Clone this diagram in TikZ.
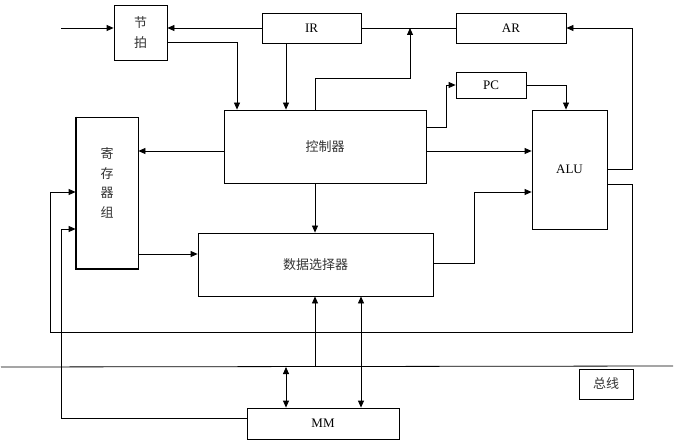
\documentclass[tikz,border=0pt]{standalone}
\usepackage{fontspec}
\setmainfont{Liberation Serif}
\newfontfamily\cjk{Noto Sans CJK SC}
\usetikzlibrary{arrows.meta}
\begin{document}
\begin{tikzpicture}[x=1pt,y=-1pt,
  box/.style={draw, line width=0.8pt, inner sep=0pt, font=\fontsize{13}{16}\selectfont},
  cn/.style={font=\fontsize{13}{19.5}\selectfont\cjk, text=black!80, align=center},
  conn/.style={line width=0.8pt, -{Triangle[length=7pt,width=6pt]}},
  dconn/.style={line width=0.8pt, {Triangle[length=7pt,width=6pt]}-{Triangle[length=7pt,width=6pt]}},
  plain/.style={line width=0.8pt}]
\useasboundingbox (0,0) rectangle (692,443);
% boxes
\node[box, cn, minimum width=53pt, minimum height=55pt] (jp) at (140.5,32.5) {节\\拍};
\node[box, minimum width=99pt, minimum height=30pt] (ir) at (311.5,28) {IR};
\node[box, minimum width=110pt, minimum height=30pt] (ar) at (511,28) {AR};
\node[box, minimum width=70pt, minimum height=26pt] (pc) at (491,85) {PC};
\node[box, minimum width=75pt, minimum height=119pt] (alu) at (569.5,169.5) {ALU};
\node[box, cn, minimum width=202pt, minimum height=73pt] (ctrl) at (325,146.5) {控制器};
\node[box, minimum width=62pt, minimum height=152pt] (reg) at (107,193) {};
\node[cn] (regtxt) at (107,183) {寄\\存\\器\\组};
\draw[line width=1.8pt] ([xshift=0.5pt]reg.north west) -- ([xshift=0.5pt,yshift=0.5pt]reg.south west) -- ([yshift=0.5pt]reg.south east);
\node[box, cn, minimum width=235pt, minimum height=63pt] (mux) at (315.5,264.5) {数据选择器};
\node[box, minimum width=152pt, minimum height=31pt] (mm) at (323,423.5) {MM};
\node[box, cn, minimum width=54pt, minimum height=30pt] (buslbl) at (606,384) {总线};
% bus
\coordinate (busL) at (1,367);
\coordinate (busR) at (673,366);
\draw[plain] (busL) -- (busR);
\coordinate (bA) at (286,367);
\coordinate (bB) at (315,367);
\coordinate (in) at (61,28);
\coordinate (j1) at (410,28);
% connectors
\draw[conn] (in) -- (in -| jp.west);
\draw[conn] (ir.west) -- (ir.west -| jp.east);
\draw[conn] (jp.east |- 0,42) -| (237,0 |- ctrl.north);
\draw[conn] (286,0 |- ir.south) -- (286,0 |- ctrl.north);
\draw[plain] (ir.east) -- (ar.west);
\draw[conn] (315,0 |- ctrl.north) |- (410,78) -- (j1);
\draw[conn] (ctrl.east |- 0,127) -| (446,0 |- pc.west) -- (pc.west);
\draw[conn] (pc.east) -| (566,0 |- alu.north);
\draw[conn] (ctrl.east |- 0,151) -- (alu.west |- 0,151);
\draw[conn] (alu.east |- 0,169) -| (632,0 |- ar.east) -- (ar.east);
\draw[conn] (ctrl.west |- 0,151) -- (reg.east |- 0,151);
\draw[conn] (315,0 |- ctrl.south) -- (315,0 |- mux.north);
\draw[conn] (reg.east |- 0,254) -- (mux.west |- 0,254);
\draw[conn] (mux.east |- 0,263) -| (474,192) -- (alu.west |- 0,192);
\draw[conn] (alu.east |- 0,184) -| (632,332) -| (50,192) -- (reg.west |- 0,192);
\draw[conn] (bB) -- (bB |- mux.south);
\draw[dconn] (361,0 |- mux.south) -- (361,0 |- mm.north);
\draw[dconn] (bA) -- (bA |- mm.north);
\draw[conn] (mm.west |- 0,418) -| (61,229) -- (reg.west |- 0,229);
\end{tikzpicture}
\end{document}
